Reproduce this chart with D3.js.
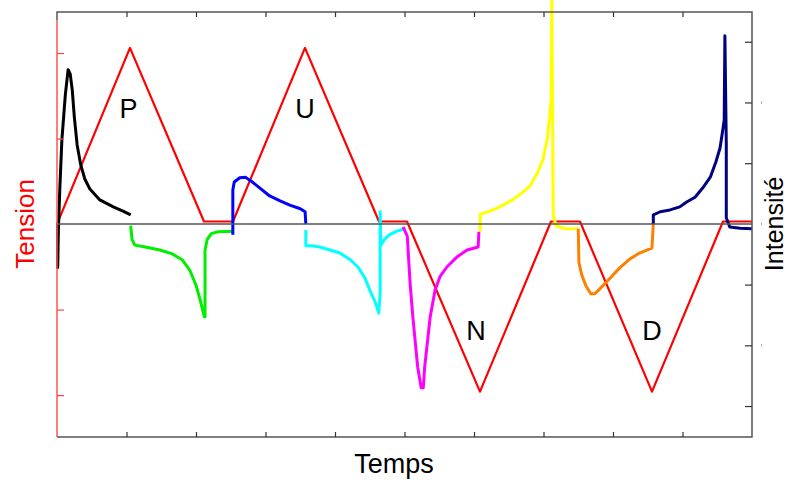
<!DOCTYPE html>
<html>
<head>
<meta charset="utf-8">
<script src="https://cdn.jsdelivr.net/npm/d3@7"></script>
<style>
  html, body { margin: 0; padding: 0; background: #fff; }
  svg { display: block; }
</style>
</head>
<body>
<svg id="chart" width="790" height="482"></svg>
<script>
// ---- Data (time in arbitrary units 0..10) ----
// Tension (red triangle sweeps): [t, tension]
const tension = [
  [0, 0], [1.05, 2.06], [2.115, 0.03], [2.532, 0.03], [3.568, 2.06], [4.633, 0.03],
  [5.036, 0.03], [6.086, -1.96], [7.108, 0.03], [7.525, 0.03], [8.561, -1.96],
  [9.583, 0.03], [10, 0.03]
];
// Current segments: [t, intensity]
const currentP1 = [ // black
  [0.01, 0], [0.01, -0.72], [0.02, -0.10], [0.04, 0.56], [0.07, 1.38], [0.12, 2.13],
  [0.16, 2.54], [0.19, 2.47], [0.22, 2.20], [0.25, 1.75], [0.29, 1.30], [0.34, 0.98],
  [0.40, 0.74], [0.47, 0.58], [0.61, 0.40], [0.81, 0.28], [0.95, 0.21], [1.06, 0.15]
];
const currentP2 = [ // green
  [1.06, -0.03], [1.08, -0.26], [1.12, -0.35], [1.27, -0.38], [1.48, -0.43], [1.65, -0.49],
  [1.80, -0.59], [1.91, -0.76], [2.00, -1.01], [2.06, -1.25], [2.12, -1.53], [2.13, -1.53],
  [2.13, -0.43], [2.16, -0.26], [2.22, -0.16], [2.32, -0.13], [2.53, -0.12]
];
const currentU1 = [ // blue
  [2.53, -0.18], [2.53, 0.56], [2.55, 0.69], [2.63, 0.76], [2.71, 0.77], [2.81, 0.69],
  [2.92, 0.59], [3.06, 0.46], [3.21, 0.38], [3.35, 0.31], [3.50, 0.25], [3.57, 0.20], [3.58, 0]
];
const currentU2 = [ // cyan
  [3.58, -0.10], [3.58, -0.36], [3.67, -0.36], [3.78, -0.38], [3.93, -0.43], [4.07, -0.48],
  [4.22, -0.59], [4.33, -0.71], [4.43, -0.89], [4.50, -1.09], [4.58, -1.29], [4.63, -1.47],
  [4.65, -1.14], [4.65, 0.20], [4.66, -0.35], [4.71, -0.26], [4.78, -0.18], [4.89, -0.12], [5.01, -0.08]
];
const currentN1 = [ // magenta
  [4.98, -0.05], [5.04, -0.20], [5.08, -0.97], [5.12, -1.53], [5.19, -2.36], [5.24, -2.70],
  [5.27, -2.70], [5.29, -2.36], [5.37, -1.53], [5.44, -1.09], [5.51, -0.87], [5.61, -0.71],
  [5.76, -0.54], [5.90, -0.43], [6.06, -0.38], [6.07, -0.13]
];
const currentN2 = [ // yellow
  [6.09, -0.13], [6.09, 0.16], [6.23, 0.21], [6.37, 0.28], [6.56, 0.40], [6.69, 0.51],
  [6.81, 0.63], [6.92, 0.86], [6.99, 1.05], [7.05, 1.38], [7.09, 1.76], [7.11, 2.04],
  [7.12, 3.77], [7.14, 0.15], [7.18, -0.03], [7.31, -0.08], [7.50, -0.08]
];
const currentD1 = [ // orange
  [7.50, -0.08], [7.51, -0.64], [7.55, -0.84], [7.61, -1.02], [7.68, -1.15], [7.74, -1.15],
  [7.81, -1.07], [7.96, -0.89], [8.10, -0.72], [8.24, -0.58], [8.38, -0.48], [8.56, -0.40], [8.58, 0]
];
const currentD2 = [ // navy
  [8.58, 0], [8.58, 0.15], [8.68, 0.20], [8.82, 0.23], [8.96, 0.28], [9.06, 0.36],
  [9.18, 0.44], [9.29, 0.59], [9.40, 0.77], [9.48, 1.02], [9.54, 1.25], [9.58, 1.55],
  [9.60, 1.71], [9.61, 3.10], [9.63, 1.33], [9.63, 0.10], [9.68, -0.05], [9.83, -0.07], [10.0, -0.08]
];
const currentSeries = [
  { name: "P+", data: currentP1, color: "#000000" },
  { name: "P-", data: currentP2, color: "#00ee00" },
  { name: "U+", data: currentU1, color: "#0000ff" },
  { name: "U-", data: currentU2, color: "#00ffff" },
  { name: "N-", data: currentN1, color: "#ff00ff" },
  { name: "N+", data: currentN2, color: "#ffff00" },
  { name: "D-", data: currentD1, color: "#ff8000" },
  { name: "D+", data: currentD2, color: "#000080" }
];
const pulseLabels = [
  { text: "P", t: 1.03, v: 1.75 },
  { text: "U", t: 3.57, v: 1.75 },
  { text: "N", t: 6.03, v: -1.91 },
  { text: "D", t: 8.56, v: -1.91 }
];
const timeTicks = [1, 2, 3, 4, 5, 6, 7, 8, 9];
const tensionTicks = [-2, -1, 1, 2];
const intensityTicks = [-3, -2, -1, 1, 2, 3];
const intensityOuterMarks = [-2, 0, 2];

// ---- Layout ----
const L = 57, R = 752, T = 12, B = 437;
const svg = d3.select("#chart");
const x = d3.scaleLinear().domain([0, 10]).range([L, R]);
const yT = d3.scaleLinear().domain([-2.49, 2.48]).range([B, T]);
const yI = d3.scaleLinear().domain([-3.51, 3.49]).range([B, T]);

const frameColor = "#555555";
const font = "Liberation Sans, Arial, sans-serif";

// Tension curve (red)
const lineT = d3.line().x(d => x(d[0])).y(d => yT(d[1]));
svg.append("path").datum(tension)
  .attr("d", lineT).attr("fill", "none")
  .attr("stroke", "#ff0000").attr("stroke-width", 2.2).attr("stroke-linejoin", "round");

// Current curves
const lineI = d3.line().x(d => x(d[0])).y(d => yI(d[1]));
svg.selectAll("path.cur").data(currentSeries).enter().append("path")
  .attr("class", "cur")
  .attr("d", d => lineI(d.data)).attr("fill", "none")
  .attr("stroke", d => d.color).attr("stroke-width", 3).attr("stroke-linejoin", "round");

// Zero line
svg.append("line")
  .attr("x1", L).attr("x2", R).attr("y1", yI(0)).attr("y2", yI(0))
  .attr("stroke", frameColor).attr("stroke-width", 1.5);

// Frame (top, right, bottom)
svg.append("path")
  .attr("d", `M${L},${T + 8}V${T}H${R}V${B}H${L}`)
  .attr("fill", "none").attr("stroke", frameColor).attr("stroke-width", 1.5);
// Left axis (red)
svg.append("line").attr("x1", L).attr("x2", L).attr("y1", T + 8).attr("y2", B)
  .attr("stroke", "#ff5555").attr("stroke-width", 1.5);

// Ticks via axes
function styleAxis(g, color) {
  g.select(".domain").remove();
  g.selectAll(".tick line").attr("stroke", color).attr("stroke-width", 1.2);
  g.selectAll(".tick text").remove();
}
svg.append("g").attr("transform", `translate(0,${T})`)
  .call(d3.axisBottom(x).tickValues(timeTicks).tickSize(5).tickFormat(""))
  .call(g => styleAxis(g, "#333"));
svg.append("g").attr("transform", `translate(0,${B})`)
  .call(d3.axisTop(x).tickValues(timeTicks).tickSize(5).tickFormat(""))
  .call(g => styleAxis(g, "#333"));
svg.append("g").attr("transform", `translate(${L},0)`)
  .call(d3.axisRight(yT).tickValues(tensionTicks).tickSize(7).tickFormat(""))
  .call(g => styleAxis(g, "#ff4444"));
svg.append("g").attr("transform", `translate(${R},0)`)
  .call(d3.axisLeft(yI).tickValues(intensityTicks).tickSize(7).tickFormat(""))
  .call(g => styleAxis(g, "#333"));
// tiny outer marks on the right
svg.selectAll("rect.om").data(intensityOuterMarks).enter().append("rect")
  .attr("class", "om").attr("x", R + 9).attr("y", d => yI(d) - 1)
  .attr("width", 1).attr("height", 2).attr("fill", "#999");

// Pulse labels
svg.selectAll("text.pl").data(pulseLabels).enter().append("text")
  .attr("class", "pl")
  .attr("x", d => x(d.t)).attr("y", d => yI(d.v))
  .attr("text-anchor", "middle")
  .attr("font-family", font).attr("font-size", 27)
  .attr("fill", "#000").text(d => d.text);

// Axis titles
svg.append("text")
  .attr("transform", `translate(34,${yI(0)}) rotate(-90)`)
  .attr("text-anchor", "middle").attr("font-family", font).attr("font-size", 26)
  .attr("fill", "#ff0000").text("Tension");
svg.append("text")
  .attr("transform", `translate(783,${yI(0)}) rotate(-90)`)
  .attr("text-anchor", "middle").attr("font-family", font).attr("font-size", 25)
  .attr("fill", "#000").text("Intensité");
svg.append("text")
  .attr("x", 394).attr("y", 473)
  .attr("text-anchor", "middle").attr("font-family", font).attr("font-size", 27)
  .attr("fill", "#000").text("Temps");
</script>
</body>
</html>
